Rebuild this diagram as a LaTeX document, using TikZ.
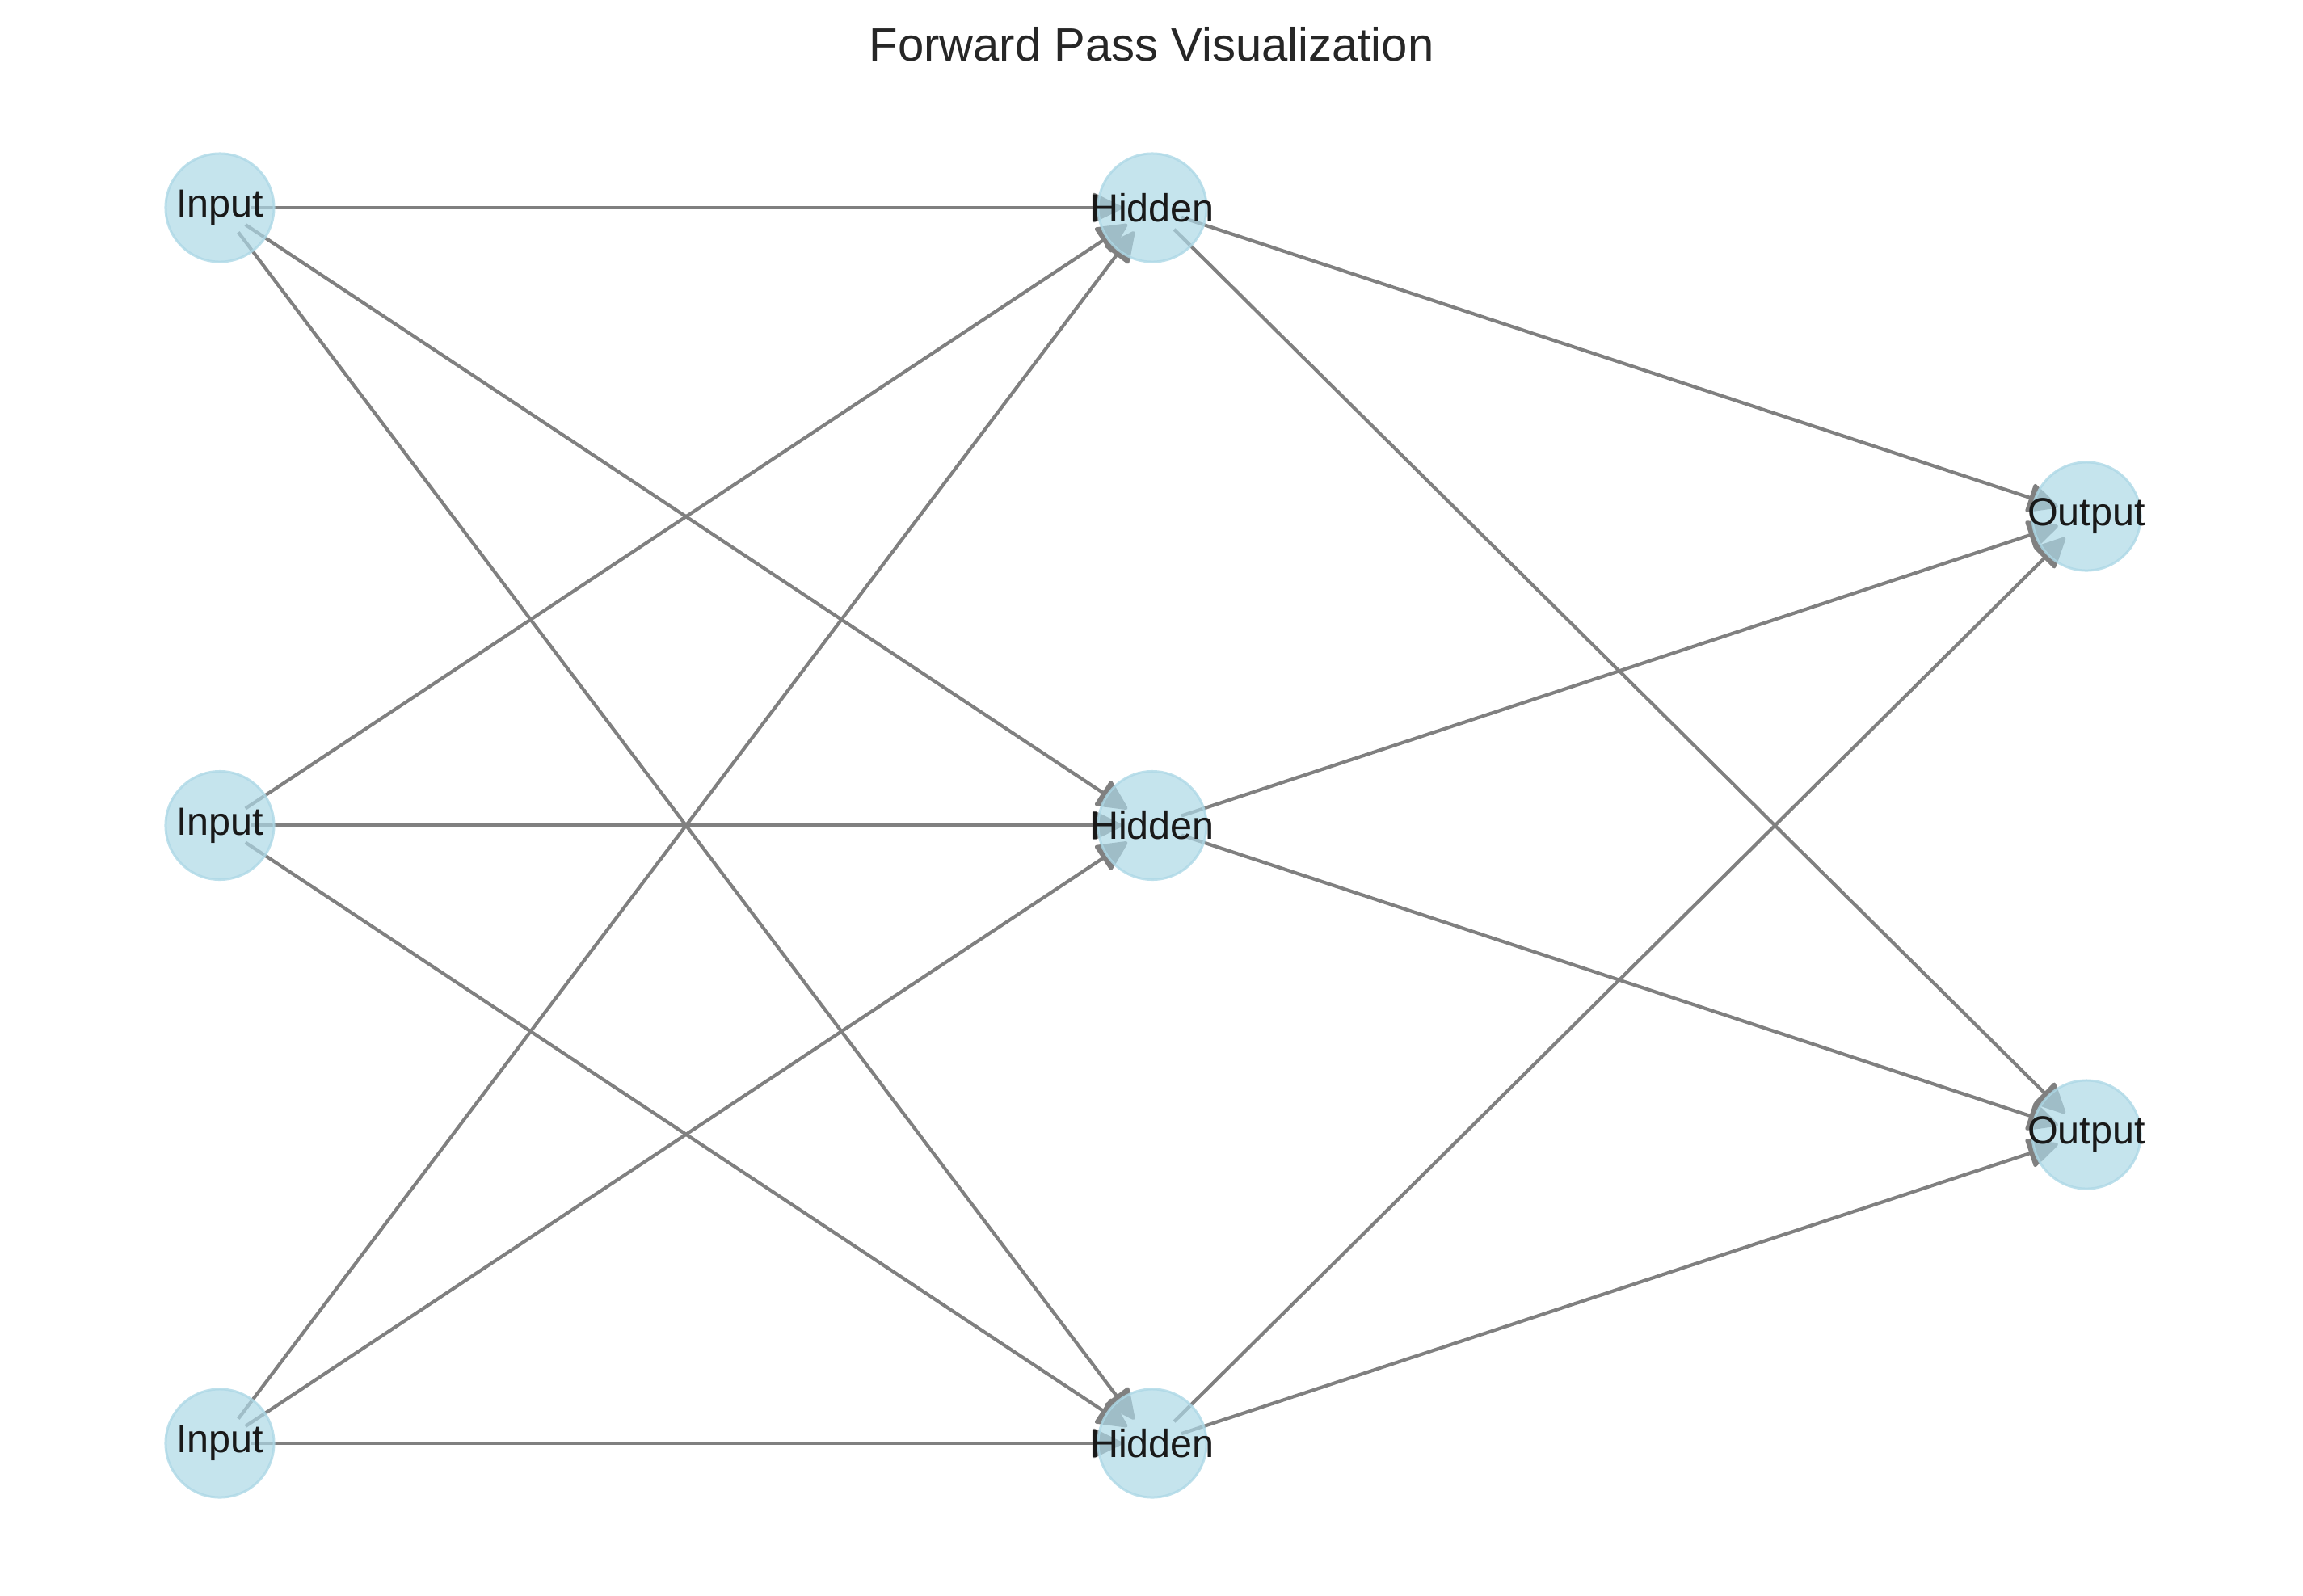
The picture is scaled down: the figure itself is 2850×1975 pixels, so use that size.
\documentclass[tikz,border=0pt]{standalone}
\usepackage{fontspec}
\setmainfont{Liberation Sans}
\usetikzlibrary{arrows.meta}
\pgfdeclarelayer{edges}
\pgfsetlayers{edges,main}
\definecolor{nodeblue}{HTML}{ADD8E6}
\definecolor{edgegray}{HTML}{808080}
\definecolor{titlecol}{HTML}{262626}
\newcommand{\nlab}[1]{\makebox[0pt]{#1}}
\begin{document}
\begin{tikzpicture}[x=0.01cm,y=-0.01cm,
  neuron/.style={circle, minimum size=1.34cm, inner sep=0pt, fill=nodeblue, fill opacity=0.7,
    draw=nodeblue, draw opacity=0.8, line width=0.03cm, text opacity=1, text=black!90,
    font=\fontsize{13.8}{16}\selectfont},
  link/.style={edgegray, line width=0.042cm, -{Triangle[length=0.40cm,width=0.38cm,round]},
    shorten <=0.38cm, shorten >=0.37cm}]
\useasboundingbox (0,0) rectangle (2850,1975);
\node[font=\fontsize{16.5}{20}\selectfont, text=titlecol] (title) at (1425,55) {Forward Pass Visualization};
\node[neuron] (i1) at (272,257) {\nlab{Input}};
\node[neuron] (i2) at (272,1021.5) {\nlab{Input}};
\node[neuron] (i3) at (272,1786) {\nlab{Input}};
\node[neuron] (h1) at (1426,257) {\nlab{Hidden}};
\node[neuron] (h2) at (1426,1021.5) {\nlab{Hidden}};
\node[neuron] (h3) at (1426,1786) {\nlab{Hidden}};
\node[neuron] (o1) at (2582,639) {\nlab{Output}};
\node[neuron] (o2) at (2582,1404) {\nlab{Output}};
\begin{pgfonlayer}{edges}
\foreach \a in {i1,i2,i3}{
  \foreach \b in {h1,h2,h3}{
    \draw[link] (\a.center) -- (\b.center);
  }
}
\foreach \a in {h1,h2,h3}{
  \foreach \b in {o1,o2}{
    \draw[link] (\a.center) -- (\b.center);
  }
}
\end{pgfonlayer}
\end{tikzpicture}
\end{document}
